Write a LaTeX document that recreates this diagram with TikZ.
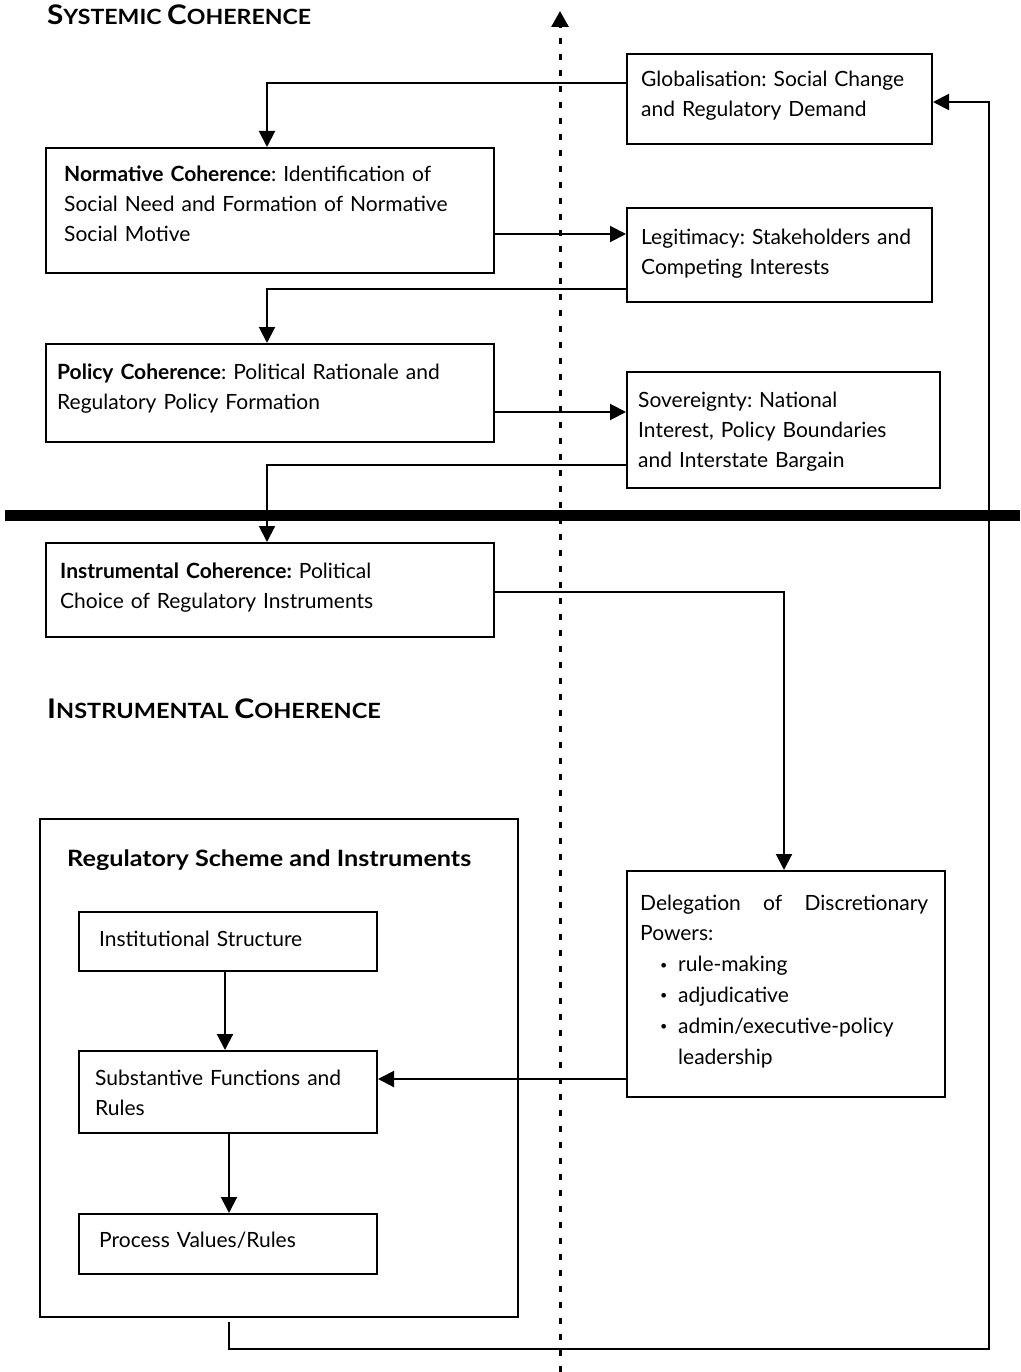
\documentclass[tikz,border=0pt]{standalone}
\usepackage{fontspec}
\setmainfont{Lato}
\usetikzlibrary{arrows.meta}
\newcommand{\fakesc}[2]{{\fontsize{27}{30}\selectfont #1}{\fontsize{21}{30}\selectfont #2}}
\newcommand{\bul}[1]{\makebox[38pt][l]{\hspace*{20pt}\raisebox{2.5pt}{\scalebox{0.6}{\textbullet}}}#1}
\begin{document}
\begin{tikzpicture}[x=1pt,y=-1pt,
  box/.style={draw, line width=2pt, anchor=north west, inner sep=0pt},
  txt/.style={anchor=base west, align=left, inner sep=0pt, text width=480pt,
    font=\fontsize{21}{30}\selectfont\frenchspacing},
  arr/.style={line width=2pt, -{Triangle[length=16pt,width=16pt]}},
  titlefont/.style={font=\bfseries\fontsize{21}{30}\selectfont, anchor=base west, inner sep=0pt}]
\useasboundingbox (0,0) rectangle (1020,1372);

% axis and divider
\coordinate (axbot) at (560,1372);
\coordinate (axtop) at (560,11);
\draw[line width=3pt, dash pattern=on 6pt off 10pt, -{Triangle[length=16pt,width=17pt]}] (axbot) -- (axtop);
\coordinate (divL) at (5,515);
\coordinate (divR) at (1020,515);
\draw[line width=11pt] (divL) -- (divR);

% titles
\node[titlefont] (systitle) at (47,25) {\scalebox{1.1}[1]{\fakesc{S}{YSTEMIC}\ \fakesc{C}{OHERENCE}}};
\node[titlefont] (insttitle) at (47,718) {\scalebox{1.12}[1]{\fakesc{I}{NSTRUMENTAL}\ \fakesc{C}{OHERENCE}}};

% upper boxes
\node[box, minimum width=305pt, minimum height=90pt] (glob) at (626,53) {};
\node[txt] (globtxt) at (641,87) {Globalisation: Social Change\\and Regulatory Demand};
\node[box, minimum width=448pt, minimum height=125pt] (norm) at (45,147) {};
\node[txt] (normtxt) at (64,182) {\textbf{Normative Coherence}: Identification of\\Social Need and Formation of Normative\\Social Motive};
\node[box, minimum width=305pt, minimum height=94pt] (legit) at (626,207) {};
\node[txt] (legittxt) at (641,244) {Legitimacy: Stakeholders and\\Competing Interests};
\node[box, minimum width=448pt, minimum height=98pt] (policy) at (45,343) {};
\node[txt] (policytxt) at (57,379) {\textbf{Policy Coherence}: Political Rationale and\\Regulatory Policy Formation};
\node[box, minimum width=313pt, minimum height=116pt] (sov) at (626,371) {};
\node[txt] (sovtxt) at (638,407) {Sovereignty: National\\Interest, Policy Boundaries\\and Interstate Bargain};
\node[box, minimum width=448pt, minimum height=94pt] (instr) at (45,542) {};
\node[txt] (instrtxt) at (60,578) {\textbf{Instrumental Coherence:} Political\\Choice of Regulatory Instruments};

% lower part
\node[box, minimum width=478pt, minimum height=498pt] (reg) at (39,818) {};
\node[titlefont, font=\bfseries\fontsize{22.5}{30}\selectfont] (regtitle) at (67,866) {\scalebox{1.12}[1]{Regulatory Scheme and Instruments}};
\node[box, minimum width=298pt, minimum height=59pt] (inst) at (78,911) {};
\node[txt] (insttxt) at (99,946) {Institutional Structure};
\node[box, minimum width=298pt, minimum height=82pt] (subst) at (78,1050) {};
\node[txt] (substtxt) at (95,1085) {Substantive Functions and\\Rules};
\node[box, minimum width=298pt, minimum height=60pt] (proc) at (78,1213) {};
\node[txt] (proctxt) at (99,1247) {Process Values/Rules};
\node[box, minimum width=318pt, minimum height=226pt] (deleg) at (626,870) {};
\node[txt, font=\fontsize{21}{30.8}\selectfont] (delegtxt) at (640,910)
  {\makebox[288pt][l]{Delegation\hfill of\hfill Discretionary}\\Powers:\\\bul{rule-making}\\\bul{adjudicative}\\\bul{admin/executive-policy}\\\hspace*{38pt}leadership};

% connectors
\draw[arr] ([yshift=16pt]glob.west) -| ([xshift=-3pt]norm.north);
\draw[arr] ([yshift=-23.5pt]norm.east) -- ([yshift=-23.5pt]norm.east -| legit.west);
\draw[arr] ([yshift=-34pt]legit.west) -| ([xshift=-3pt]policy.north);
\draw[arr] ([yshift=-19pt]policy.east) -- ([yshift=-19pt]policy.east -| sov.west);
\draw[arr] ([yshift=-35pt]sov.west) -| ([xshift=-3pt]instr.north);
\draw[arr] ([yshift=-1.5pt]instr.east) -| ([xshift=-2pt]deleg.north);
\draw[arr] ([xshift=-3pt]inst.south) -- ([xshift=-3pt]subst.north);
\draw[arr] ([xshift=1pt]subst.south) -- ([xshift=1pt]proc.north);
\draw[arr] ([yshift=-95pt]deleg.west) -- ([yshift=-95pt]deleg.west -| subst.east);
\coordinate (fbstart) at ([xshift=-50pt,yshift=-4pt]reg.south);
\coordinate (fbcorner) at (989,1349);
\draw[arr] (fbstart) |- (fbcorner) |- ([yshift=-3pt]glob.east);
\end{tikzpicture}
\end{document}
